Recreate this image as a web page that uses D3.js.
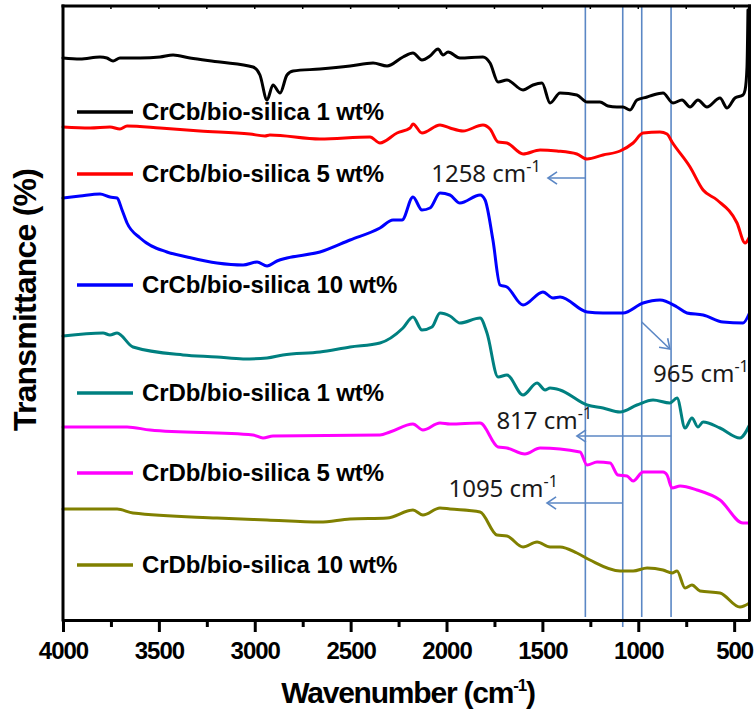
<!DOCTYPE html>
<html>
<head>
<meta charset="utf-8">
<script src="https://cdn.jsdelivr.net/npm/d3@7"></script>
<style>
  body { margin: 0; background: #fff; }
  svg text { font-family: 'Liberation Sans', Arial, sans-serif; }
</style>
</head>
<body>
<div id="chart"></div>
<script>
// FTIR spectra, [wavenumber cm-1, transmittance (offset, a.u.)]
const seriesNames = ['CrCb/bio-silica 1 wt%', 'CrCb/bio-silica 5 wt%', 'CrCb/bio-silica 10 wt%',
  'CrDb/bio-silica 1 wt%', 'CrDb/bio-silica 5 wt%', 'CrDb/bio-silica 10 wt%'];
const seriesColors = ['#000000', '#ff0000', '#0000ff', '#008080', '#ff00ff', '#808000'];

const crCb1 = [[4000,562],[3911,561],[3807,563],[3771,562],[3739,559],[3703,562],[3598,562],[3494,563],
  [3426,565],[3338,562],[3181,558],[3009,553],[2973,545],[2936,520],[2905,535],[2868,527],[2832,545],
  [2800,549],[2660,551],[2503,554],[2383,557],[2310,554],[2227,563],[2175,567],[2128,560],[2086,564],
  [2044,571],[2018,565],[1992,568],[1930,562],[1810,563],[1773,557],[1731,538],[1685,540],[1601,530],
  [1549,535],[1502,537],[1460,517],[1408,527],[1320,525],[1267,518],[1200,518],[1158,514],[1111,513],
  [1080,513],[1043,510],[1007,520],[954,523],[923,525],[871,527],[819,517],[772,520],[730,513],[689,520],
  [642,513],[574,522],[537,512],[496,522],[454,525],[443,530],[433,553],[428,610]];
const crCb5 = [[4000,493],[3859,492],[3755,493],[3703,491],[3666,494],[3494,492],[3286,489],[3025,486],
  [2947,484],[2921,485],[2660,481],[2399,483],[2347,477],[2258,487],[2190,492],[2175,496],[2128,487],
  [2034,495],[1982,492],[1914,489],[1810,495],[1773,491],[1731,478],[1685,477],[1601,466],[1512,470],
  [1424,469],[1320,466],[1267,461],[1184,465],[1095,469],[1027,477],[975,487],[887,488],[850,486],
  [824,478],[730,453],[662,430],[589,420],[485,397],[443,377],[420,383]];
const crCb10 = [[4000,422],[3911,424],[3807,426],[3755,423],[3718,422],[3692,410],[3666,397],[3598,382],
  [3458,368],[3353,363],[3197,357],[3061,355],[2988,358],[2936,354],[2884,359],[2832,362],[2660,368],
  [2503,380],[2347,392],[2279,400],[2232,400],[2175,423],[2128,410],[2086,412],[2034,427],[1982,425],
  [1930,417],[1825,425],[1799,420],[1758,380],[1721,335],[1685,333],[1601,315],[1497,328],[1445,322],
  [1408,323],[1267,308],[1184,307],[1080,307],[975,317],[887,320],[798,313],[746,307],[662,305],
  [558,298],[454,297],[420,307]];
const crDb1 = [[4000,284],[3791,287],[3755,285],[3718,287],[3635,273],[3374,265],[3197,263],[3061,261],
  [2936,262],[2853,265],[2660,268],[2503,273],[2347,277],[2227,292],[2175,303],[2128,290],[2076,293],
  [2034,307],[1982,304],[1930,297],[1825,302],[1789,287],[1731,243],[1685,245],[1601,225],[1528,237],
  [1486,230],[1460,232],[1408,230],[1267,215],[1184,212],[1095,208],[1007,215],[923,220],[835,217],
  [798,222],[756,192],[720,202],[689,193],[662,198],[574,192],[470,182],[420,195]];
const crDb5 = [[4000,193],[3666,193],[3546,190],[3009,185],[2957,182],[2905,184],[2347,185],[2295,188],
  [2175,196],[2123,190],[2034,197],[1982,196],[1825,197],[1731,173],[1685,172],[1591,166],[1512,172],
  [1304,168],[1267,155],[1215,158],[1147,157],[1106,145],[1059,144],[1027,139],[975,148],[871,148],
  [850,145],[824,132],[782,134],[694,130],[574,120],[454,97],[420,97]];
const crDb10 = [[4000,111],[3718,111],[3635,107],[3197,102],[2936,100],[2660,98],[2503,101],[2310,102],
  [2175,110],[2123,105],[2034,112],[1982,111],[1825,108],[1737,85],[1685,84],[1601,73],[1528,78],
  [1460,73],[1408,73],[1320,67],[1252,60],[1095,49],[1027,49],[954,52],[871,50],[824,47],[798,49],
  [756,32],[720,35],[678,29],[574,27],[470,13],[420,17]];
const allSeries = [crCb1, crCb5, crCb10, crDb1, crDb5, crDb10];

const xTicks = [4000, 3500, 3000, 2500, 2000, 1500, 1000, 500];
const xMinorTicks = [3750, 3250, 2750, 2250, 1750, 1250, 750];

// marked bands: the guide lines as drawn, and their labels
const guideWn = [1276, 1081, 982, 829];
const peakLabels = ['1258', '1095', '965', '817'];
// arrow [fromWn, fromT, toWn, toT], label [startWn, baselineT]
const arrows = [[1276, 442, 1471, 442], [1081, 117, 1476, 117], [982, 298, 835, 271], [829, 184, 1320, 184]];
const labelPos = [[2080, 438], [1990, 123], [923, 238], [1740, 191]];

const W = 754, H = 713;
const x = d3.scaleLinear().domain([4000, 420]).range([63, 749.5]);
const y = d3.scaleLinear().domain([0, 614]).range([620, 6]);

const svg = d3.select('#chart').append('svg')
    .attr('width', W)
    .attr('height', H);

// guide lines
const guideCol = '#5b87c5';
svg.append('g').selectAll('line')
    .data(guideWn)
    .enter().append('line')
    .attr('x1', (d) => x(d)).attr('x2', (d) => x(d))
    .attr('y1', y(613))
    .attr('y2', (d, i) => i === 1 ? y(-7) : y(3))
    .attr('stroke', guideCol)
    .attr('stroke-width', 1.6);

// spectra
const line = d3.line()
    .x((d) => x(d[0]))
    .y((d) => y(d[1]))
    .curve(d3.curveMonotoneX);

svg.append('g').selectAll('path')
    .data(allSeries)
    .enter().append('path')
    .attr('fill', 'none')
    .attr('stroke', (d, i) => seriesColors[i])
    .attr('stroke-width', 3)
    .attr('stroke-linejoin', 'round')
    .attr('stroke-linecap', 'round')
    .attr('d', line);

// arrows
const ann = svg.append('g');
arrows.forEach((a) => {
  const x1 = x(a[0]), y1 = y(a[1]), x2 = x(a[2]), y2 = y(a[3]);
  const ang = Math.atan2(y2 - y1, x2 - x1);
  const hl = 11, ha = 0.6;
  ann.append('line')
      .attr('x1', x1).attr('y1', y1).attr('x2', x2).attr('y2', y2)
      .attr('stroke', guideCol).attr('stroke-width', 1.6);
  ann.append('path')
      .attr('d', 'M' + (x2 - hl * Math.cos(ang - ha)) + ',' + (y2 - hl * Math.sin(ang - ha)) +
        'L' + x2 + ',' + y2 +
        'L' + (x2 - hl * Math.cos(ang + ha)) + ',' + (y2 - hl * Math.sin(ang + ha)))
      .attr('fill', 'none').attr('stroke', guideCol).attr('stroke-width', 1.6);
});
labelPos.forEach((p, i) => {
  const t = ann.append('text')
      .attr('x', x(p[0])).attr('y', y(p[1]))
      .style('font-family', "'Noto Sans', 'Open Sans', sans-serif")
      .style('font-size', '24px')
      .attr('fill', '#1a1a1a');
  t.append('tspan').text(peakLabels[i] + ' cm');
  t.append('tspan').attr('dy', -10).style('font-size', '16px').text('-1');
});

// axes
const xAxis = svg.append('g')
    .attr('transform', 'translate(0,620)')
    .call(d3.axisBottom(x).tickValues(xTicks).tickFormat(d3.format('d'))
        .tickSize(12).tickSizeOuter(0).tickPadding(10));
xAxis.select('.domain').attr('stroke-width', 3);
xAxis.selectAll('.tick line').attr('stroke-width', 3);
xAxis.selectAll('.tick text')
    .style('font-size', '24px')
    .style('font-weight', 'bold')
    .style('letter-spacing', '-1px')
    .attr('fill', '#000');

const xMinor = svg.append('g')
    .attr('transform', 'translate(0,620)')
    .call(d3.axisBottom(x).tickValues(xMinorTicks).tickSize(7).tickFormat(''));
xMinor.select('.domain').remove();
xMinor.selectAll('.tick line').attr('stroke-width', 3);

// frame
svg.append('line').attr('x1', 63).attr('x2', 63).attr('y1', 4.5).attr('y2', 621.5)
    .attr('stroke', '#000').attr('stroke-width', 3);
svg.append('line').attr('x1', 61.5).attr('x2', 751).attr('y1', 6).attr('y2', 6)
    .attr('stroke', '#000').attr('stroke-width', 3);
svg.append('line').attr('x1', 749.5).attr('x2', 749.5).attr('y1', 4.5).attr('y2', 621.5)
    .attr('stroke', '#000').attr('stroke-width', 3);

// top minor ticks
svg.append('g').selectAll('line')
    .data(xTicks.concat(xMinorTicks))
    .enter().append('line')
    .attr('x1', (d) => x(d)).attr('x2', (d) => x(d))
    .attr('y1', 6).attr('y2', 9)
    .attr('stroke', '#000').attr('stroke-width', 1.5);

// legend
const legendY = [112, 174, 285, 393, 473, 565];
const legend = svg.append('g');
seriesNames.forEach((name, i) => {
  legend.append('line')
      .attr('x1', 77).attr('x2', 133)
      .attr('y1', legendY[i]).attr('y2', legendY[i])
      .attr('stroke', seriesColors[i]).attr('stroke-width', 3.5);
  legend.append('text')
      .attr('x', 142).attr('y', legendY[i] + 8)
      .style('font-size', '24px')
      .style('font-weight', 'bold')
      .style('letter-spacing', '-0.1px')
      .text(name);
});

// axis titles
const xt = svg.append('text')
    .attr('x', 408).attr('y', 703)
    .attr('text-anchor', 'middle')
    .style('font-size', '30px')
    .style('font-weight', 'bold')
    .style('letter-spacing', '-1.2px');
xt.append('tspan').text('Wavenumber (cm');
xt.append('tspan').attr('dy', -12).style('font-size', '17px').text('-1');
xt.append('tspan').attr('dy', 12).text(')');

svg.append('text')
    .attr('transform', 'translate(36,300) rotate(-90)')
    .attr('text-anchor', 'middle')
    .style('font-size', '32px')
    .style('font-weight', 'bold')
    .style('letter-spacing', '-0.8px')
    .text('Transmittance (%)');
</script>
</body>
</html>
